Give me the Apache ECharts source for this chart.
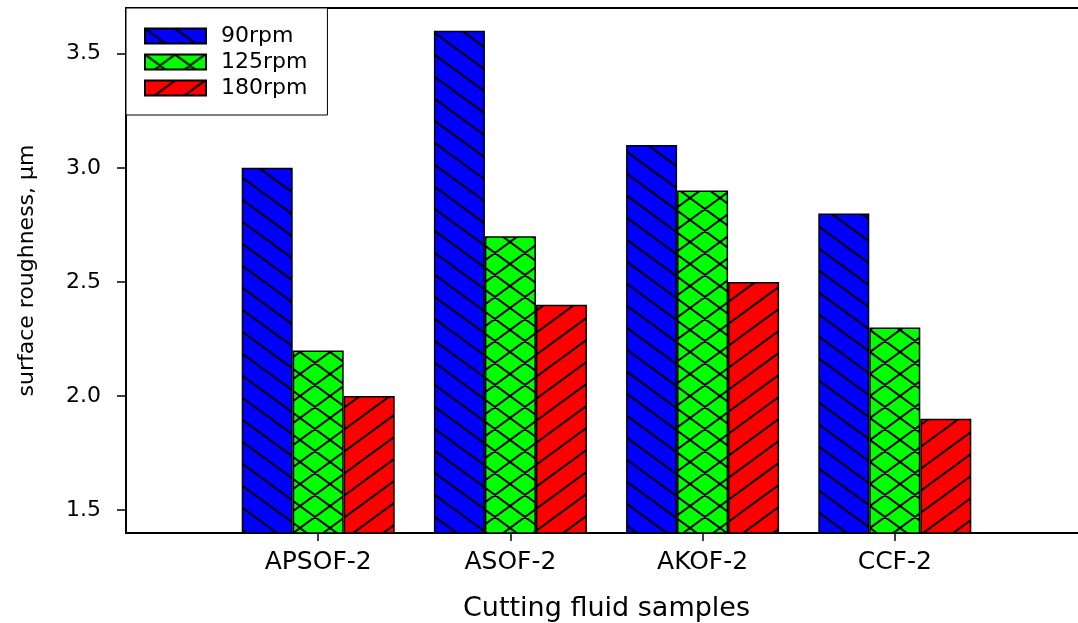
<!DOCTYPE html>
<html>
<head>
<meta charset="utf-8">
<script src="https://cdn.jsdelivr.net/npm/echarts@6/dist/echarts.min.js"></script>
<style>
html, body { margin: 0; padding: 0; background: #fff; }
#chart { width: 1078px; height: 623px; }
</style>
</head>
<body>
<div id="chart"></div>
<script>
// data
var categories = ['APSOF-2', 'ASOF-2', 'AKOF-2', 'CCF-2'];
var rpm90 = [3.0, 3.6, 3.1, 2.8];
var rpm125 = [2.2, 2.7, 2.9, 2.3];
var rpm180 = [2.0, 2.4, 2.5, 1.9];
var yTicks = [1.5, 2.0, 2.5, 3.0, 3.5];
var xTicks = [1, 2, 3, 4];

var FONT = 'DejaVu Sans';

// hatch fills
function hatch(bg, kind) {
	var w = 30, h = 22;
	var c = document.createElement('canvas');
	c.width = w;
	c.height = h;
	var ctx = c.getContext('2d');
	ctx.fillStyle = bg;
	ctx.fillRect(0, 0, w, h);
	ctx.strokeStyle = '#000';
	ctx.lineWidth = 2;
	ctx.beginPath();
	for (var k = -2; k <= 2; k++) {
		if (kind == 'back' || kind == 'cross') {
			ctx.moveTo(k * w - w, -h);
			ctx.lineTo(k * w + 2 * w, 2 * h);
		}
		if (kind == 'fwd' || kind == 'cross') {
			ctx.moveTo(k * w - w, 2 * h);
			ctx.lineTo(k * w + 2 * w, -h);
		}
	}
	ctx.stroke();
	return { image: c, repeat: 'repeat' };
}

function toPoints(arr) {
	return arr.map(function(v, i) { return [xTicks[i], v]; });
}

function barSeries(name, arr, fill) {
	return {
		name: name,
		type: 'bar',
		data: toPoints(arr),
		barGap: 0,
		barWidth: 51,
		itemStyle: { color: fill, borderColor: '#000', borderWidth: 1.5 }
	};
}

var myChart = echarts.init(document.getElementById('chart'));

var option = {
	animation: false,
	backgroundColor: '#fff',
	grid: {
		left: 126, right: -9, top: 8, bottom: 90,
		outerBoundsMode: 'none',
		containLabel: false,
		show: true, borderColor: '#000', borderWidth: 1.8, backgroundColor: 'transparent'
	},
	legend: {
		orient: 'vertical',
		left: 126, top: 8,
		padding: [17, 20, 16, 18],
		backgroundColor: '#fff',
		borderColor: '#000',
		borderWidth: 1,
		itemWidth: 61,
		itemHeight: 15,
		itemGap: 4,
		icon: 'rect',
		textStyle: { fontFamily: FONT, fontSize: 22, color: '#000', padding: [0, 0, 0, 10] },
		data: ['90rpm', '125rpm', '180rpm']
	},
	xAxis: {
		type: 'value',
		min: 0, max: 5,
		name: 'Cutting fluid samples',
		nameLocation: 'middle',
		nameGap: 62,
		nameTextStyle: { fontFamily: FONT, fontSize: 27, color: '#000' },
		axisLine: { show: true, lineStyle: { color: '#000', width: 1.8 } },
		axisTick: { show: true, length: 8, customValues: xTicks, lineStyle: { color: '#000', width: 1.5 } },
		axisLabel: {
			customValues: xTicks,
			margin: 17,
			fontFamily: FONT, fontSize: 25, color: '#000',
			formatter: function(v) { return categories[v - 1]; }
		},
		splitLine: { show: false }
	},
	yAxis: {
		type: 'value',
		min: 1.4, max: 3.7,
		name: 'surface roughness, μm',
		nameLocation: 'middle',
		nameRotate: 90,
		nameGap: 88,
		nameTextStyle: { fontFamily: FONT, fontSize: 22, color: '#000' },
		axisLine: { show: true, lineStyle: { color: '#000', width: 1.8 } },
		axisTick: { show: true, length: 9, customValues: yTicks, lineStyle: { color: '#000', width: 1.5 } },
		axisLabel: {
			customValues: yTicks,
			margin: 25,
			fontFamily: FONT, fontSize: 22, color: '#000',
			formatter: function(v) { return v.toFixed(1); }
		},
		splitLine: { show: false }
	},
	series: [
		barSeries('90rpm', rpm90, hatch('#0000ff', 'back')),
		barSeries('125rpm', rpm125, hatch('#00ff00', 'cross')),
		barSeries('180rpm', rpm180, hatch('#ff0000', 'fwd'))
	]
};

myChart.setOption(option);
</script>
</body>
</html>
